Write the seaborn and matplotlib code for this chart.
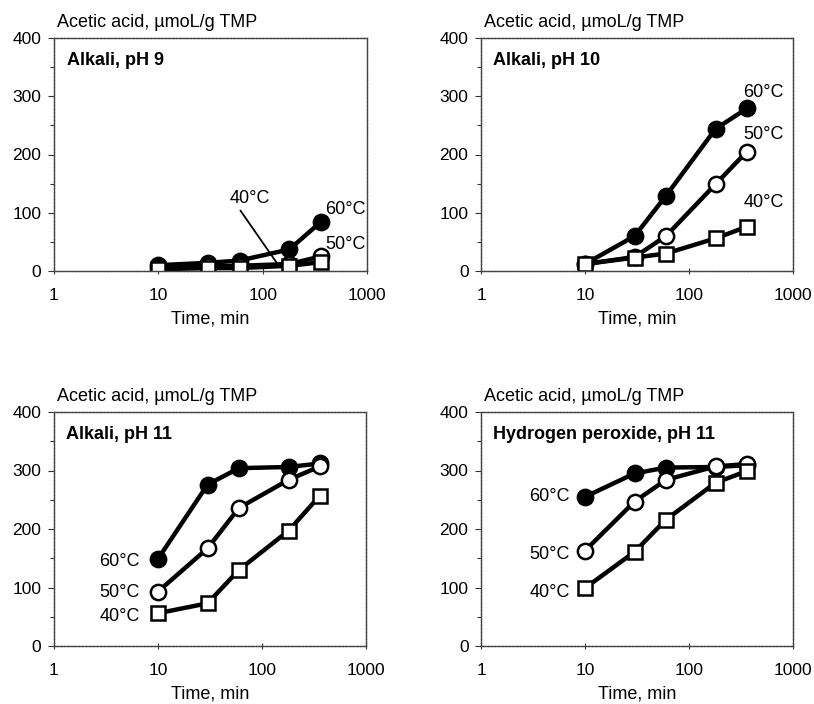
import matplotlib
matplotlib.use("Agg")
import matplotlib.pyplot as plt
import matplotlib.ticker as mticker
import seaborn as sns
import pandas as pd

sns.set_theme(style="white")
plt.rcParams['font.family'] = ['Liberation Sans', 'DejaVu Sans']
plt.rcParams['text.color'] = 'black'
plt.rcParams['axes.labelcolor'] = 'black'
plt.rcParams['xtick.color'] = 'black'
plt.rcParams['ytick.color'] = 'black'

# ---- data ----
times = [10, 30, 60, 180, 360]
temps = ["60°C", "50°C", "40°C"]
panel_titles = ["Alkali, pH 9", "Alkali, pH 10", "Alkali, pH 11", "Hydrogen peroxide, pH 11"]

ph9_60 = [10, 14, 18, 37, 84]
ph9_50 = [6, 8, 9, 12, 25]
ph9_40 = [3, 5, 5, 9, 15]

ph10_60 = [12, 60, 129, 244, 279]
ph10_50 = [12, 24, 60, 149, 205]
ph10_40 = [12, 23, 30, 56, 76]

ph11_60 = [149, 276, 304, 306, 312]
ph11_50 = [93, 167, 236, 284, 307]
ph11_40 = [56, 73, 130, 197, 257]

h2o2_60 = [255, 295, 305, 306, 309]
h2o2_50 = [163, 247, 284, 307, 311]
h2o2_40 = [99, 161, 216, 279, 299]

panels = [
    [ph9_60, ph9_50, ph9_40],
    [ph10_60, ph10_50, ph10_40],
    [ph11_60, ph11_50, ph11_40],
    [h2o2_60, h2o2_50, h2o2_40],
]

ylabel_text = "Acetic acid, µmoL/g TMP"
xlabel_text = "Time, min"
x_ticks = [1, 10, 100, 1000]
x_ticklabels = ["1", "10", "100", "1000"]
y_ticks = [0, 100, 200, 300, 400]

# ---- figure ----
fig = plt.figure(figsize=(8.14, 7.04), dpi=100)
W, H = 814, 704
boxes = [(54, 38, 367, 271), (481, 38, 793, 271), (54, 412, 366, 646), (481, 412, 793, 646)]
axes = []
for (l, t, r, b) in boxes:
    axes.append(fig.add_axes([l / W, 1 - b / H, (r - l) / W, (b - t) / H]))

styles = [
    dict(marker='o', markerfacecolor='black', markersize=11),
    dict(marker='o', markerfacecolor='white', markersize=11),
    dict(marker='s', markerfacecolor='white', markersize=10.5),
]

FS = 13
TFS = 12.5
for ax, title, series in zip(axes, panel_titles, panels):
    for temp, vals, st in zip(temps, series, styles):
        df = pd.DataFrame({"time": times, "val": vals})
        sns.lineplot(data=df, x="time", y="val", ax=ax, color='black', linewidth=3.2,
                     markeredgecolor='black', markeredgewidth=1.8, **st)
    ax.set_xscale('log')
    ax.set_xlim(1, 1000)
    ax.set_ylim(0, 400)
    ax.set_xticks(x_ticks)
    ax.set_xticklabels(x_ticklabels)
    ax.xaxis.set_minor_locator(mticker.NullLocator())
    ax.set_yticks(y_ticks)
    ax.yaxis.set_minor_locator(mticker.MultipleLocator(50))
    ax.tick_params(axis='x', which='major', direction='inout', length=5, width=0.8,
                   color='#333333', pad=10, labelsize=TFS)
    ax.tick_params(axis='y', which='major', direction='out', length=4, width=0.8,
                   color='#333333', pad=5, labelsize=TFS, left=True)
    ax.tick_params(axis='y', which='minor', direction='out', length=3, width=0.8,
                   color='#333333', left=True)
    ax.tick_params(axis='x', bottom=True)
    for sp in ax.spines.values():
        sp.set_visible(True)
        sp.set_color('#444444')
        sp.set_linewidth(1.0)
        sp.set_linestyle((0, (2, 0.6)))
    ax.set_xlabel(xlabel_text, fontsize=FS, labelpad=5)
    ax.set_ylabel("")
    ax.text(0.01, 1.066, ylabel_text, transform=ax.transAxes, fontsize=FS,
            ha='left', va='center')
    ax.text(0.04, 0.905, title, transform=ax.transAxes, fontsize=FS,
            fontweight='bold', ha='left', va='center')
    ax.set_facecolor('white')

# series labels
a0, a1, a2, a3 = axes
a0.text(396, 105, "60°C", fontsize=FS, ha='left', va='center')
a0.text(396, 45, "50°C", fontsize=FS, ha='left', va='center')
a0.annotate("40°C", xy=(144, 8), xytext=(48.7, 124), fontsize=FS, ha='left', va='center',
            arrowprops=dict(arrowstyle='-', color='black', lw=1.3, shrinkA=0, shrinkB=0,
                            relpos=(0.2, 0.0)))

a1.text(332, 307, "60°C", fontsize=FS, ha='left', va='center')
a1.text(332, 235, "50°C", fontsize=FS, ha='left', va='center')
a1.text(335, 117, "40°C", fontsize=FS, ha='left', va='center')

for ax, ys, xr in [(a2, [144, 92, 51], 6.7), (a3, [255, 157, 92], 7.1)]:
    for lab, yv in zip(temps, ys):
        ax.text(xr, yv, lab, fontsize=FS, ha='right', va='center')

fig.savefig("out.png", dpi=100, facecolor='white')
